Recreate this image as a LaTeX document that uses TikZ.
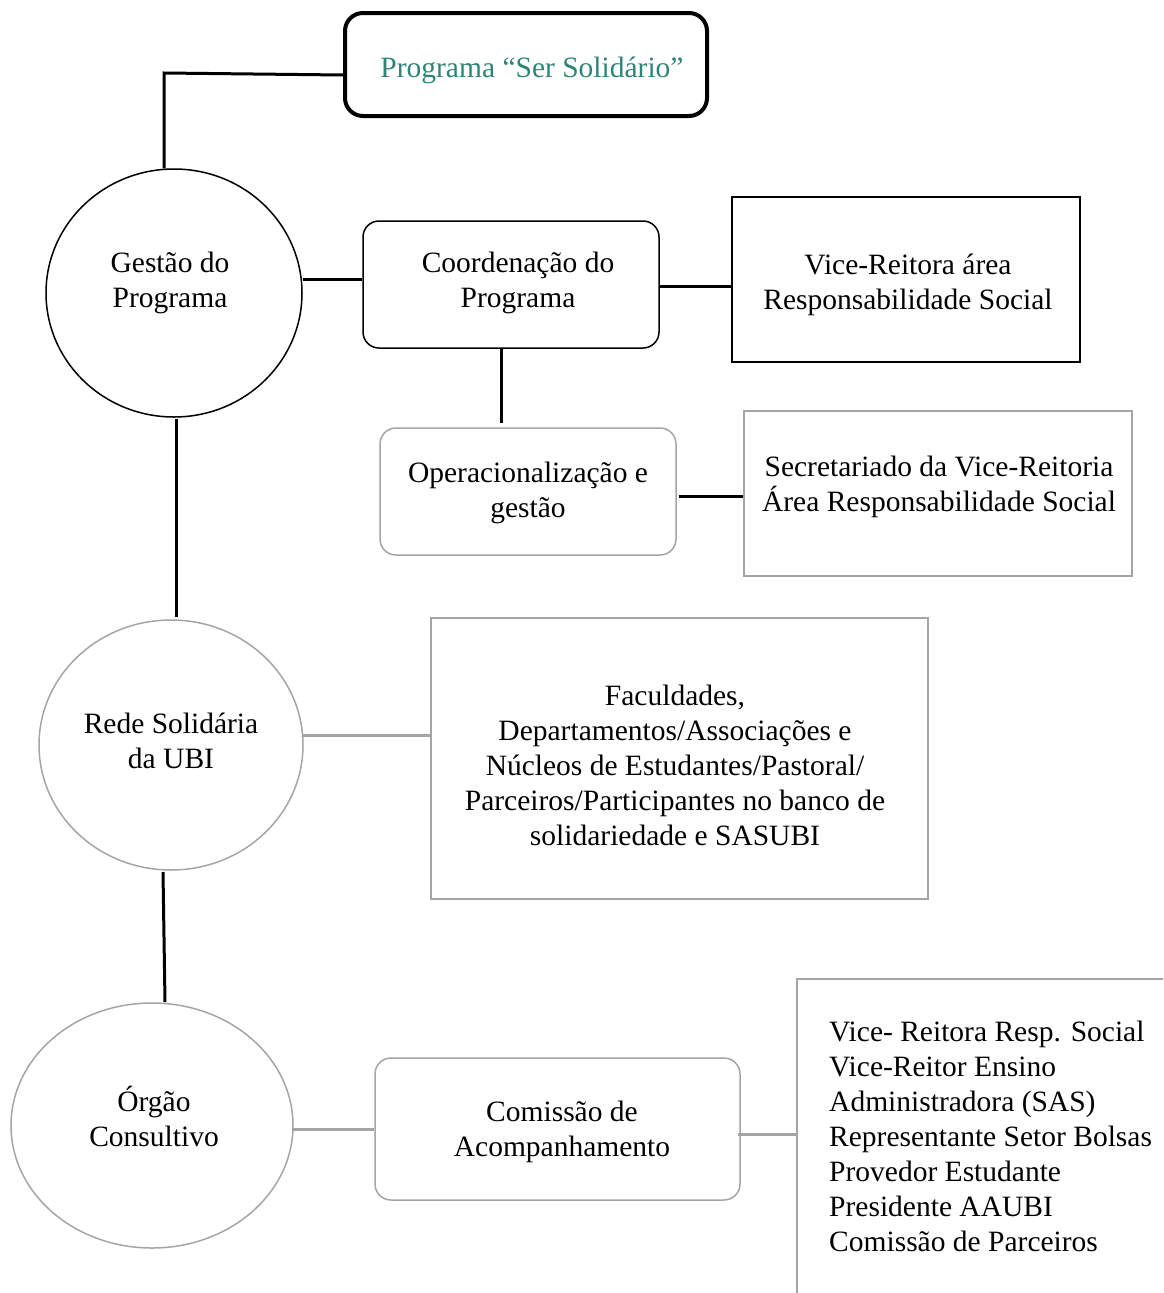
\documentclass[tikz,border=0pt]{standalone}
\usepackage{fontspec}
\setmainfont{Liberation Serif}
\usetikzlibrary{shapes.geometric}
\definecolor{teal1}{RGB}{46,133,119}
\definecolor{gr}{RGB}{165,165,165}
\tikzset{
  txt/.style={font=\fontsize{29.5}{35}\selectfont, align=center, inner sep=0pt},
  ell/.style={ellipse, draw, line width=1.5pt, inner sep=0pt},
  box/.style={draw, line width=1.5pt, inner sep=0pt},
  rbox/.style={box, rounded corners=16pt},
  blk/.style={line width=3pt},
  gry/.style={line width=3pt, gr},
}
\begin{document}
\begin{tikzpicture}[x=1pt,y=-1pt]
\useasboundingbox (0,0) rectangle (1163,1293);
\clip (0,0) rectangle (1163,1293);
% top box
\node[rbox, line width=4pt, rounded corners=18pt, minimum width=362pt, minimum height=103pt] (prog) at (526,64.5) {};
\node[txt, text=teal1] at (532,70) {Programa “Ser Solidário”};
% circle 1
\node[ell, minimum width=256pt, minimum height=248pt] (g) at (174,293) {};
\node[txt] at (170,283) {Gestão do\\Programa};
% coordenacao
\node[rbox, minimum width=296pt, minimum height=127pt] (c) at (511,284.5) {};
\node[txt] at (518,283) {Coordenação do\\Programa};
% vice
\node[box, minimum width=348pt, minimum height=165pt] (v) at (906,279.5) {};
\node[txt] at (908,284.5) {Vice-Reitora área\\Responsabilidade Social};
% operacionalizacao
\node[rbox, draw=gr, minimum width=296pt, minimum height=127pt] (o) at (528,491.5) {};
\node[txt] at (528,493) {Operacionalização e\\gestão};
% secretariado
\node[box, draw=gr, minimum width=388pt, minimum height=165pt] (s) at (938,493.5) {};
\node[txt] at (939,486.5) {Secretariado da Vice-Reitoria\\Área Responsabilidade Social};
% circle 2
\node[ell, draw=gr, minimum width=264pt, minimum height=250pt] (r) at (171,745) {};
\node[txt] at (171,740.5) {Rede Solidária\\da UBI};
% faculdades
\node[box, draw=gr, minimum width=497pt, minimum height=281pt] (f) at (679.5,758.5) {};
\node[txt] at (675,765) {Faculdades,\\Departamentos/Associações e\\Núcleos de Estudantes/Pastoral/\\Parceiros/Participantes no banco de\\solidariedade e SASUBI};
% circle 3
\node[ell, draw=gr, minimum width=282pt, minimum height=245pt] (oc) at (152,1125.5) {};
\node[txt] at (154,1116.5) {Órgão\\Consultivo};
% comissao
\node[rbox, draw=gr, minimum width=365pt, minimum height=142pt] (ca) at (557.5,1129) {};
\node[txt] at (562,1131.5) {Comissão de\\Acompanhamento};
% right box (extends past the page)
\node[box, draw=gr, minimum width=500pt, minimum height=400pt, anchor=north west] (m) at (796,978) {};
\node[txt, align=left, anchor=north west] at (829,1021) {Vice- Reitora Resp. Social\\Vice-Reitor Ensino\\Administradora (SAS)\\Representante Setor Bolsas\\Provedor Estudante\\Presidente AAUBI\\Comissão de Parceiros};
% connectors
\coordinate (k1) at (164,73);
\draw[blk] (prog.west |- 0,75) -- (k1) -- (k1 |- g.north);
\draw[blk] (g.east |- 0,279) -- (c.west |- 0,279);
\draw[blk] (c.east |- 0,286) -- (v.west |- 0,286);
\draw[blk] (501,348) -- (501,423);
\draw[blk] (679,496) -- (s.west |- 0,496);
\draw[blk] (176,419) -- (176,617);
\draw[gry] (303,735) -- (f.west |- 0,735);
\draw[blk] (163,872) -- (165,1002);
\draw[gry] (293,1129) -- (ca.west |- 0,1129);
\draw[gry] (738,1134) -- (m.west |- 0,1134);
\end{tikzpicture}
\end{document}
